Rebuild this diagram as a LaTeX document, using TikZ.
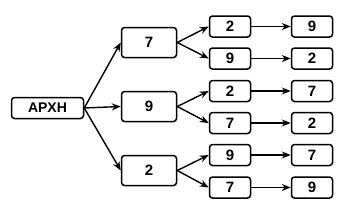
\documentclass[tikz,border=0pt]{standalone}
\usepackage{fontspec}
\setmainfont{Liberation Sans}
\usetikzlibrary{arrows.meta}
\tikzset{
  box/.style={draw, rounded corners=3pt, line width=1.5pt, inner sep=0pt,
    minimum width=41pt, minimum height=21pt,
    font=\bfseries\fontsize{15}{15}\selectfont},
  bigbox/.style={box, minimum width=55pt, minimum height=30pt},
  arr/.style={-{Stealth[length=9pt, width=7pt]}, line width=1.4pt}
}

\begin{document}
\begin{tikzpicture}[x=1pt, y=-1pt]
  \useasboundingbox (0,0) rectangle (354,209);

  % start
  \node[box, minimum width=72pt, font=\bfseries\fontsize{14}{14}\selectfont] (start) at (47.5,108) {ΑΡΧΗ};

  % first choice
  \node[bigbox] (l1a) at (149,42.5) {7};
  \node[bigbox] (l1b) at (149,106.5) {9};
  \node[bigbox] (l1c) at (149,170.5) {2};

  % second choice
  \node[box] (l2a) at (230,26.5) {2};
  \node[box] (l2b) at (230,58.5) {9};
  \node[box] (l2c) at (230,91) {2};
  \node[box] (l2d) at (230,123) {7};
  \node[box] (l2e) at (230,155) {9};
  \node[box] (l2f) at (230,187.5) {7};

  % third choice
  \node[box] (l3a) at (312,26.5) {9};
  \node[box] (l3b) at (312,58.5) {2};
  \node[box] (l3c) at (312,91) {7};
  \node[box] (l3d) at (312,123) {2};
  \node[box] (l3e) at (312,155) {7};
  \node[box] (l3f) at (312,187.5) {9};

  \draw[arr] (start.east) -- (l1a.west);
  \draw[arr] (start.east) -- (l1b.west);
  \draw[arr] (start.east) -- (l1c.west);

  \draw[arr] (l1a.east) -- (l2a.west);
  \draw[arr] (l1a.east) -- (l2b.west);
  \draw[arr] (l1b.east) -- (l2c.west);
  \draw[arr] (l1b.east) -- (l2d.west);
  \draw[arr] (l1c.east) -- (l2e.west);
  \draw[arr] (l1c.east) -- (l2f.west);

  \draw[arr] (l2a) -- (l3a);
  \draw[arr] (l2b) -- (l3b);
  \draw[arr] (l2c) -- (l3c);
  \draw[arr] (l2d) -- (l3d);
  \draw[arr] (l2e) -- (l3e);
  \draw[arr] (l2f) -- (l3f);
\end{tikzpicture}
\end{document}
